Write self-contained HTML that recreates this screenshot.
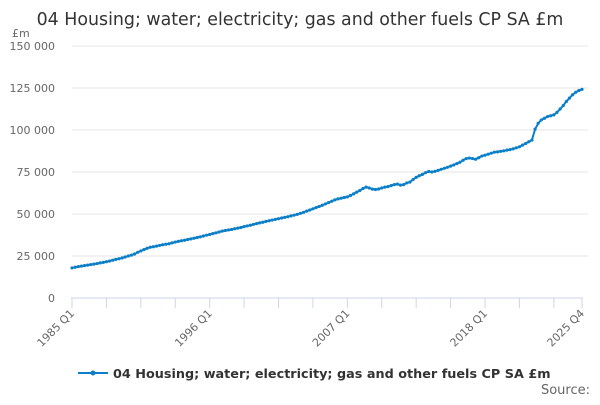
<!DOCTYPE html>
<html><head><meta charset="utf-8"><style>
body{margin:0;background:#fff;font-family:"Liberation Sans","DejaVu Sans",sans-serif;}
svg text{font-family:"DejaVu Sans","Liberation Sans",sans-serif;}
</style></head><body>
<svg id="chart" width="600" height="400" xmlns="http://www.w3.org/2000/svg">
<text x="300" y="25" text-anchor="middle" font-size="17.4" fill="#333">04 Housing; water; electricity; gas and other fuels CP SA £m</text>
<text x="12" y="37" font-size="11" fill="#666">£m</text>
<g id="grid"></g><g id="xaxis"></g><g id="series"></g>
<g>
<line x1="78" y1="373" x2="108" y2="373" stroke="#0b7fc7" stroke-width="2"/>
<circle cx="93" cy="373" r="2.5" fill="#0b7fc7"/>
<text x="113" y="378" font-size="12.8" font-weight="bold" fill="#333">04 Housing; water; electricity; gas and other fuels CP SA £m</text>
</g>
<text x="590" y="394" text-anchor="end" font-size="13" fill="#666">Source:</text>
</svg>
<script>
const yTicks=[0,25000,50000,75000,100000,125000,150000];
const yTickLabels=["0","25 000","50 000","75 000","100 000","125 000","150 000"];
const xLabels=["1985 Q1","1996 Q1","2007 Q1","2018 Q1","2025 Q4"];
const xLabelIdx=[0,44,88,132,163];
const values=[17.9,18.3,18.7,19.0,19.3,19.6,19.9,20.2,20.5,20.9,21.2,21.6,22.0,22.5,23.0,23.4,23.8,24.4,25.0,25.5,26.2,27.2,28.0,28.8,29.6,30.2,30.5,30.9,31.3,31.7,32.0,32.3,32.8,33.3,33.7,34.1,34.4,34.8,35.2,35.6,36.0,36.4,36.9,37.4,37.8,38.3,38.8,39.3,39.8,40.2,40.5,40.8,41.2,41.6,42.0,42.5,42.9,43.3,43.8,44.3,44.7,45.1,45.6,46.0,46.4,46.8,47.2,47.6,48.0,48.4,48.9,49.3,49.8,50.4,51.0,51.7,52.4,53.1,53.8,54.5,55.2,56.0,56.8,57.6,58.4,59.0,59.4,59.8,60.2,61.0,62.0,63.0,64.0,65.2,66.0,65.5,64.8,64.6,64.9,65.5,66.0,66.3,66.9,67.5,67.8,67.2,67.5,68.5,69.0,70.5,71.8,72.8,73.6,74.6,75.3,75.0,75.4,76.0,76.6,77.2,77.8,78.5,79.2,80.0,80.8,82.0,83.0,83.3,83.0,82.6,83.5,84.5,85.0,85.6,86.2,86.8,87.0,87.3,87.6,88.0,88.3,88.8,89.4,90.0,91.0,92.0,93.0,94.0,100.5,104.0,106.0,107.0,108.0,108.5,109.0,110.5,112.5,114.5,117.0,119.0,121.0,122.5,123.5,124.2].map(v=>v*1000);
const NS="http://www.w3.org/2000/svg";
const x0=72,x1=582,yb=298,yt=46;
const xs=i=>x0+(x1-x0)*i/(values.length-1);
const ys=v=>yb-(yb-yt)*v/150000;
function mk(t,a,p){const e=document.createElementNS(NS,t);for(const k in a)e.setAttribute(k,a[k]);p.appendChild(e);return e;}
const grid=document.getElementById('grid');
yTicks.forEach((v,i)=>{
 if(v>0){const l=mk('line',{x1:x0,x2:x1+6,y1:ys(v),y2:ys(v),stroke:'#e6e6e6'},grid);
 
 }
 const t=mk('text',{x:55,y:ys(v)+4,'text-anchor':'end','font-size':11,fill:'#666'},grid);
 t.textContent=yTickLabels[i];
 
 
});
const xa=document.getElementById('xaxis');
const ax=mk('line',{x1:x0-1,x2:x1+1,y1:yb,y2:yb,stroke:'#ccd6eb'},xa);


for(let i=0;i<values.length;i+=11){const tk=mk('line',{x1:xs(i),x2:xs(i),y1:yb,y2:yb+10,stroke:'#ccd6eb'},xa);
 
 }
const last=mk('line',{x1:xs(163),x2:xs(163),y1:yb,y2:yb+10,stroke:'#ccd6eb'},xa);


xLabels.forEach((s,i)=>{const x=xs(xLabelIdx[i]);
 const t=mk('text',{x:x+3,y:yb+16,'text-anchor':'end','font-size':11,fill:'#666',transform:`rotate(-45 ${x+3} ${yb+16})`},xa);
 t.textContent=s;
 
 });
const sg=document.getElementById('series');
const p=mk('path',{d:values.map((v,i)=>(i?'L':'M')+xs(i).toFixed(1)+' '+ys(v).toFixed(1)).join(''),fill:'none',stroke:'#0b7fc7','stroke-width':2},sg);


values.forEach((v,i)=>{const c=mk('circle',{cx:xs(i),cy:ys(v),r:1.6,fill:'#0b7fc7'},sg);
 
 });
</script>
</body></html>
